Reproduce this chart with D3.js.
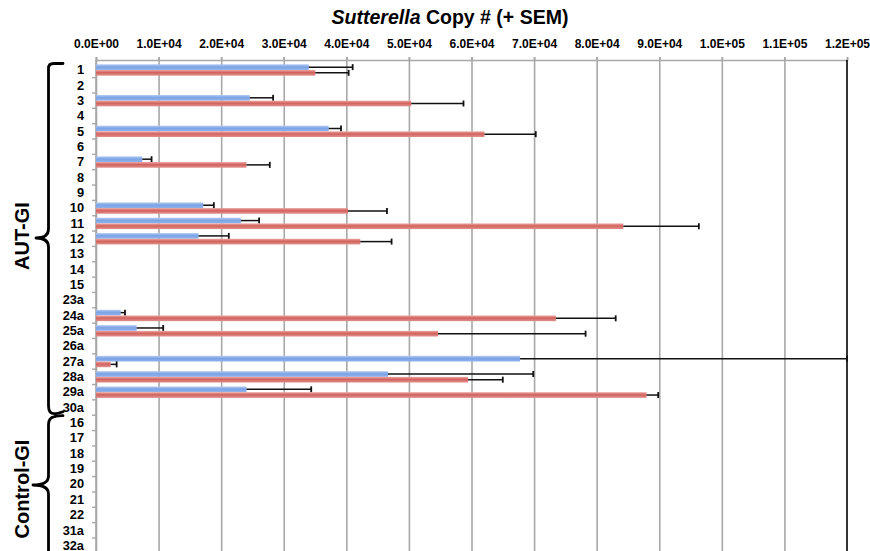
<!DOCTYPE html>
<html>
<head>
<meta charset="utf-8">
<script src="https://cdn.jsdelivr.net/npm/d3@7"></script>
<style>
  html, body { margin: 0; padding: 0; background: #fff; }
  svg { display: block; font-family: "Liberation Sans", Arial, sans-serif; }
</style>
</head>
<body>
<svg id="chart" width="870" height="551"></svg>
<script>
// Subjects, top to bottom
const categories = ["1","2","3","4","5","6","7","8","9","10","11","12","13","14","15",
  "23a","24a","25a","26a","27a","28a","29a","30a",
  "16","17","18","19","20","21","22","31a","32a"];

// Sutterella copy number per subject (null = not detected)
const blueValues = [33990,null,24570,null,37180,null,7390,null,null,17130,23140,16380,null,null,null,
  null,3940,6490,null,67760,46660,24040,null,
  null,null,null,null,null,null,null,null,null];
const blueSem = [7020,null,3730,null,1970,null,1490,null,null,1700,2920,4840,null,null,null,
  null,690,4250,null,52240,23210,10350,null,
  null,null,null,null,null,null,null,null,null];
const redValues = [35050,null,50370,null,62070,null,24040,null,null,40270,84260,42230,null,null,null,
  null,73480,54650,null,2340,59460,87970,null,
  null,null,null,null,null,null,null,null,null];
const redSem = [5320,null,8350,null,8200,null,3730,null,null,6220,12070,5000,null,null,null,
  null,9560,23580,null,960,5540,1860,null,
  null,null,null,null,null,null,null,null,null];

const xTicks = [0,10000,20000,30000,40000,50000,60000,70000,80000,90000,100000,110000,120000];

const groups = [
  { name: "AUT-GI", from: "1", to: "30a" },
  { name: "Control-GI", from: "16", to: "32a" }
];

const svg = d3.select("#chart");
const plotLeft = 96, plotRight = 847, plotTop = 60, bandTop = 62.3, bandBottom = 553.3;

const x = d3.scaleLinear().domain([0, 120000]).range([plotLeft, plotRight]);
const y = d3.scaleBand().domain(categories).range([bandTop, bandBottom]).paddingInner(0).paddingOuter(0);
const sub = d3.scaleBand().domain(["blue","red"]).range([0, y.bandwidth()]).paddingInner(0).paddingOuter(0.35);

const sci = v => {
  if (v === 0) return "0.0E+00";
  const e = Math.floor(Math.log10(v));
  const m = v / Math.pow(10, e);
  return m.toFixed(1) + "E+" + String(e).padStart(2, "0");
};

// gradients for the bar fills
const defs = svg.append("defs");
function grad(id, stops) {
  const g = defs.append("linearGradient").attr("id", id).attr("x1", 0).attr("y1", 0).attr("x2", 0).attr("y2", 1);
  stops.forEach(([o, c]) => g.append("stop").attr("offset", o).attr("stop-color", c));
}
grad("gBlue", [[0, "#b3cbf1"], [0.45, "#7ba3e6"], [1, "#90b2ea"]]);
grad("gRed", [[0, "#eca7a3"], [0.45, "#d2625e"], [1, "#e0908c"]]);

// vertical gridlines (with the tick stubs above the top axis line)
const grid = svg.append("g").attr("transform", `translate(0,${plotTop})`)
  .call(d3.axisTop(x).tickValues(xTicks.slice(0, -1)).tickFormat("").tickSizeInner(-(551 - plotTop + 5)).tickSizeOuter(0));
grid.select(".domain").remove();
grid.selectAll(".tick line").attr("stroke", "#a8a8a8").attr("stroke-width", 1.6).attr("y1", -3);

// top axis line and labels
const xAxis = svg.append("g").attr("transform", `translate(0,${plotTop})`)
  .call(d3.axisTop(x).tickValues(xTicks).tickFormat(sci).tickSize(3).tickPadding(9));
xAxis.select(".domain").attr("stroke", "#a8a8a8").attr("stroke-width", 1.6);
xAxis.selectAll(".tick line").attr("stroke", "#a8a8a8").attr("stroke-width", 1.6).attr("y2", -3);
xAxis.selectAll(".tick text").attr("font-size", "12px").attr("font-weight", "bold").attr("fill", "#000")
  .attr("font-family", "Liberation Sans, Arial, sans-serif");

// left axis line with tick stubs at band boundaries
svg.append("line").attr("x1", plotLeft).attr("x2", plotLeft).attr("y1", plotTop).attr("y2", 560)
  .attr("stroke", "#a8a8a8").attr("stroke-width", 1.6);
svg.append("g").selectAll("line").data(categories).join("line")
  .attr("x1", plotLeft - 4).attr("x2", plotLeft)
  .attr("y1", d => y(d) + y.step()).attr("y2", d => y(d) + y.step())
  .attr("stroke", "#a8a8a8").attr("stroke-width", 1.4);

// category labels
const yAxis = svg.append("g").attr("transform", `translate(${plotLeft},0)`)
  .call(d3.axisLeft(y).tickSize(0).tickPadding(12));
yAxis.select(".domain").remove();
yAxis.selectAll(".tick text").attr("font-size", "12.8px").attr("font-weight", "bold").attr("fill", "#000")
  .attr("dy", "0.33em").attr("font-family", "Liberation Sans, Arial, sans-serif");

// right border line
svg.append("line").attr("x1", plotRight).attr("x2", plotRight).attr("y1", plotTop).attr("y2", 560)
  .attr("stroke", "#000").attr("stroke-width", 1.6);

// bars and error bars
const rows = categories.map((c, i) => ({ c, blue: blueValues[i], blueSem: blueSem[i], red: redValues[i], redSem: redSem[i] }));
const series = [
  { key: "blue", fill: "url(#gBlue)", val: r => r.blue, sem: r => r.blueSem },
  { key: "red", fill: "url(#gRed)", val: r => r.red, sem: r => r.redSem }
];
series.forEach(s => {
  const data = rows.filter(r => s.val(r) != null);
  const g = svg.append("g");
  g.selectAll("rect").data(data).join("rect")
    .attr("x", x(0)).attr("y", d => y(d.c) + sub(s.key))
    .attr("width", d => x(s.val(d)) - x(0)).attr("height", sub.bandwidth())
    .attr("fill", s.fill);
  const eb = svg.append("g").attr("stroke", "#111").attr("stroke-width", 1.5);
  eb.selectAll("line.err").data(data).join("line").attr("class", "err")
    .attr("x1", d => x(s.val(d))).attr("x2", d => x(Math.min(120000, s.val(d) + s.sem(d))))
    .attr("y1", d => y(d.c) + sub(s.key) + sub.bandwidth() / 2)
    .attr("y2", d => y(d.c) + sub(s.key) + sub.bandwidth() / 2);
  eb.selectAll("line.cap").data(data).join("line").attr("class", "cap")
    .attr("x1", d => x(Math.min(120000, s.val(d) + s.sem(d))))
    .attr("x2", d => x(Math.min(120000, s.val(d) + s.sem(d))))
    .attr("y1", d => y(d.c) + sub(s.key) + sub.bandwidth() / 2 - 3)
    .attr("y2", d => y(d.c) + sub(s.key) + sub.bandwidth() / 2 + 3)
    .attr("stroke-width", 1.8);
});

// title
const title = svg.append("text").attr("x", 450).attr("y", 24).attr("text-anchor", "middle")
  .attr("font-size", "19.5px").attr("font-weight", "bold").attr("fill", "#000");
title.append("tspan").attr("font-style", "italic").text("Sutterella");
title.append("tspan").text(" Copy # (+ SEM)");

// group braces and labels
const bx = 48.5, tipR = 63;
const groupTop = y(groups[0].from) + 1.2;
const split = y(groups[0].to) + y.step() - 0.5;
const groupBottom = 600;
const braces = svg.append("g").attr("fill", "none").attr("stroke", "#000").attr("stroke-width", 2.8)
  .attr("stroke-linejoin", "round").attr("stroke-linecap", "round");
const mid1 = 238;
braces.append("path").attr("d",
  `M${tipR},${groupTop} L${bx + 5},${groupTop} Q${bx},${groupTop} ${bx},${groupTop + 5}` +
  ` L${bx},${mid1 - 9} Q${bx},${mid1} ${36},${mid1} Q${bx},${mid1} ${bx},${mid1 + 9}` +
  ` L${bx},${split - 9} Q${bx},${split - 1} ${bx + 6},${split - 1} Q${tipR - 6},${split - 1} ${tipR},${split - 3}`);
const mid2 = 485;
braces.append("path").attr("d",
  `M${tipR},${split + 1} Q${tipR - 6},${split + 1} ${bx + 6},${split + 2} Q${bx},${split + 3} ${bx},${split + 10}` +
  ` L${bx},${mid2 - 9} Q${bx},${mid2} ${33},${mid2} Q${bx},${mid2} ${bx},${mid2 + 9} L${bx},${groupBottom}`);

svg.append("text").attr("transform", `translate(28.5,${mid1 - 2}) rotate(-90)`).attr("text-anchor", "middle")
  .attr("font-size", "20px").attr("font-weight", "bold").text(groups[0].name);
svg.append("text").attr("transform", `translate(28.5,${mid2 + 4}) rotate(-90)`).attr("text-anchor", "middle")
  .attr("font-size", "20px").attr("font-weight", "bold").text(groups[1].name);
</script>
</body>
</html>
